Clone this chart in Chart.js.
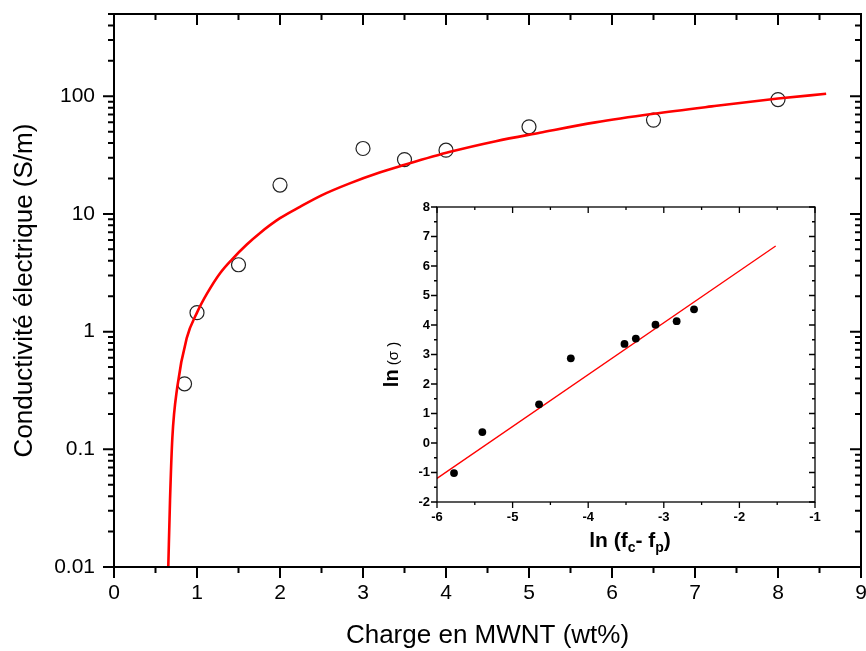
<!DOCTYPE html>
<html>
<head>
<meta charset="utf-8">
<script src="https://cdn.jsdelivr.net/npm/chart.js@4.4.1/dist/chart.umd.min.js"></script>
<style>
  body { margin: 0; background: #fff; }
  #wrap { position: relative; width: 866px; height: 651px; }
  #main { position: absolute; left: 0; top: 0; }
  #inset { position: absolute; left: 380px; top: 195px; }
</style>
</head>
<body>
<div id="wrap">
  <canvas id="main" width="866" height="651"></canvas>
  <canvas id="inset" width="450" height="365"></canvas>
</div>
<script>
const FONT = "'Liberation Sans', Arial, sans-serif";

// measured conductivity vs MWNT load
const loadWt = [0.85, 1, 1.5, 2, 3, 3.5, 4, 5, 6.5, 8];
const conductivity = [0.36, 1.45, 3.7, 17.6, 36, 29, 34.8, 55, 62.7, 93.7];

// red fit curve
const fitLoad = [0.654, 0.675, 0.703, 0.763, 0.876, 1.0, 1.12, 1.28, 1.42, 1.6, 1.76, 2.0, 2.24, 2.5, 2.84, 3.2, 3.49, 4.05, 4.6, 5.13, 5.8, 6.5, 7.2, 8.0, 8.58];
const fitSigma = [0.01, 0.037, 0.125, 0.34, 0.88, 1.45, 2.1, 3.15, 4.1, 5.5, 6.9, 9.2, 11.5, 14.4, 18.2, 22.5, 26, 33.7, 41.5, 49, 60, 71, 82, 95.6, 105];

const mainXTicks = [0, 1, 2, 3, 4, 5, 6, 7, 8, 9];
const mainYTicks = [0.01, 0.1, 1, 10, 100];

// inset: ln(sigma) vs ln(fc - fp)
const insetLnF = [-5.775, -5.40, -4.65, -4.23, -3.52, -3.37, -3.11, -2.83, -2.60];
const insetLnSigma = [-1.02, 0.37, 1.31, 2.87, 3.36, 3.54, 4.01, 4.13, 4.53];
const insetFitLnF = [-6, -1.52];
const insetFitLnSigma = [-1.2, 6.68];

const insetXTicks = [-6, -5, -4, -3, -2, -1];
const insetYTicks = [-2, -1, 0, 1, 2, 3, 4, 5, 6, 7, 8];

function minorLinear(ticks, step) {
  const out = [];
  for (let i = 0; i < ticks.length - 1; i++) out.push(ticks[i] + step);
  return out;
}
function minorLog(ticks, max) {
  const out = [];
  ticks.forEach(t => { for (let k = 2; k <= 9; k++) if (t * k <= max * 1.0001) out.push(t * k); });
  return out;
}

// keep the plot box where we put it (no extra room for edge labels)
const noPad = () => ({ left: 0, top: 0, right: 0, bottom: 0 });

// Origin-like frame: ticks out on left/bottom, in on top/right
function framePlugin(id, cfg) {
  return {
    id,
    afterDraw(chart) {
      const { ctx, chartArea: a, scales } = chart;
      const xs = scales.x, ys = scales.y;
      ctx.save();
      ctx.strokeStyle = '#000';
      ctx.lineWidth = cfg.width;
      ctx.beginPath();
      const seg = (x1, y1, x2, y2) => { ctx.moveTo(x1, y1); ctx.lineTo(x2, y2); };
      const drawX = (vals, len) => vals.forEach(v => {
        const p = xs.getPixelForValue(v);
        seg(p, a.bottom, p, a.bottom + len);
        seg(p, a.top, p, a.top + len);
      });
      const drawY = (vals, len) => vals.forEach(v => {
        const p = ys.getPixelForValue(v);
        seg(a.left, p, a.left - len, p);
        seg(a.right, p, a.right - len, p);
      });
      drawX(cfg.xMajor, cfg.major);
      drawX(cfg.xMinor, cfg.minor);
      drawY(cfg.yMajor, cfg.major);
      drawY(cfg.yMinor, cfg.minor);
      ctx.stroke();
      ctx.strokeRect(a.left, a.top, a.right - a.left, a.bottom - a.top);
      ctx.restore();
    }
  };
}

new Chart(document.getElementById('main'), {
  type: 'scatter',
  data: {
    datasets: [
      {
        label: 'fit',
        data: fitLoad.map((x, i) => ({ x, y: fitSigma[i] })),
        showLine: true,
        borderColor: '#ff0000',
        borderWidth: 2.6,
        pointRadius: 0,
        cubicInterpolationMode: 'monotone',
        order: 0
      },
      {
        label: 'mesures',
        data: loadWt.map((x, i) => ({ x, y: conductivity[i] })),
        pointRadius: 7,
        pointBorderWidth: 1.2,
        pointBorderColor: '#222',
        pointBackgroundColor: 'rgba(0,0,0,0)',
        order: 1
      }
    ]
  },
  options: {
    responsive: false,
    animation: false,
    layout: { autoPadding: false, padding: { top: 14, right: 5, left: 0, bottom: 0 } },
    plugins: { legend: { display: false }, tooltip: { enabled: false } },
    scales: {
      x: {
        type: 'linear', min: 0, max: 9,
        afterBuildTicks: s => { s.ticks = mainXTicks.map(v => ({ value: v })); },
        afterFit: s => { s.height = 84; s.paddingLeft = 0; s.paddingRight = 0; s.getPadding = noPad; },
        ticks: { font: { family: FONT, size: 21 }, color: '#000', padding: 14, maxRotation: 0, autoSkip: false },
        grid: { display: false, drawTicks: false },
        border: { display: false },
        title: { display: true, text: 'Charge en MWNT (wt%)', color: '#000',
                 font: { family: FONT, size: 26 }, padding: { top: 0, bottom: 0 } }
      },
      y: {
        type: 'logarithmic', min: 0.01, max: 500,
        afterBuildTicks: s => { s.ticks = mainYTicks.map(v => ({ value: v })); },
        afterFit: s => { s.width = 114; s.paddingTop = 0; s.paddingBottom = 0; s.getPadding = noPad; },
        ticks: { font: { family: FONT, size: 21 }, color: '#000', padding: 19,
                 autoSkip: false, callback: v => String(v) },
        grid: { display: false, drawTicks: false },
        border: { display: false },
        title: { display: true, text: 'Conductivité électrique (S/m)', color: '#000',
                 font: { family: FONT, size: 26 }, padding: { top: 9, bottom: 0 } }
      }
    }
  },
  plugins: [framePlugin('mainFrame', {
    width: 2, major: 11, minor: 6,
    xMajor: mainXTicks, xMinor: minorLinear(mainXTicks, 0.5),
    yMajor: mainYTicks, yMinor: minorLog(mainYTicks, 500)
  })]
});

const insetTitles = {
  id: 'insetTitles',
  afterDraw(chart) {
    const { ctx, chartArea: a } = chart;
    ctx.save();
    ctx.fillStyle = '#000';
    ctx.textBaseline = 'alphabetic';
    // x title: ln (f_c- f_p)
    const big = 'bold 21px ' + FONT, small = 'bold 14px ' + FONT;
    const parts = [['ln (f', big, 0], ['c', small, 5], ['- f', big, 0], ['p', small, 5], [')', big, 0]];
    let w = 0;
    parts.forEach(p => { ctx.font = p[1]; w += ctx.measureText(p[0]).width; });
    let x = (a.left + a.right) / 2 + 4 - w / 2;
    const base = a.bottom + 45;
    parts.forEach(p => { ctx.font = p[1]; ctx.fillText(p[0], x, base + p[2]); x += ctx.measureText(p[0]).width; });
    // y title: ln (σ )
    ctx.translate(a.left - 39, (a.top + a.bottom) / 2);
    ctx.rotate(-Math.PI / 2);
    ctx.font = 'bold 20px ' + FONT;
    const w1 = ctx.measureText('ln').width;
    ctx.font = '15px ' + FONT;
    const w2 = ctx.measureText(' (σ )').width;
    const start = -10 - (w1 + w2) / 2;
    ctx.font = 'bold 20px ' + FONT;
    ctx.fillText('ln', start, 0);
    ctx.font = '15px ' + FONT;
    ctx.fillText(' (σ )', start + w1, 0);
    ctx.restore();
  }
};

new Chart(document.getElementById('inset'), {
  type: 'scatter',
  data: {
    datasets: [
      {
        label: 'fit',
        data: insetFitLnF.map((x, i) => ({ x, y: insetFitLnSigma[i] })),
        showLine: true,
        borderColor: '#ff0000',
        borderWidth: 1.3,
        pointRadius: 0,
        order: 1
      },
      {
        label: 'ln sigma',
        data: insetLnF.map((x, i) => ({ x, y: insetLnSigma[i] })),
        pointRadius: 3.9,
        pointBorderWidth: 0,
        pointBackgroundColor: '#000',
        order: 0
      }
    ]
  },
  options: {
    responsive: false,
    animation: false,
    layout: { autoPadding: false, padding: { top: 12, right: 15, left: 0, bottom: 0 } },
    plugins: { legend: { display: false }, tooltip: { enabled: false } },
    scales: {
      x: {
        type: 'linear', min: -6, max: -1,
        afterBuildTicks: s => { s.ticks = insetXTicks.map(v => ({ value: v })); },
        afterFit: s => { s.height = 58; s.paddingLeft = 0; s.paddingRight = 0; s.getPadding = noPad; },
        ticks: { font: { family: FONT, size: 13, weight: 'bold' }, color: '#000', padding: 8,
                 maxRotation: 0, autoSkip: false },
        grid: { display: false, drawTicks: false },
        border: { display: false }
      },
      y: {
        type: 'linear', min: -2, max: 8,
        afterBuildTicks: s => { s.ticks = insetYTicks.map(v => ({ value: v })); },
        afterFit: s => { s.width = 57; s.paddingTop = 0; s.paddingBottom = 0; s.getPadding = noPad; },
        ticks: { font: { family: FONT, size: 13, weight: 'bold' }, color: '#000', padding: 7,
                 autoSkip: false },
        grid: { display: false, drawTicks: false },
        border: { display: false }
      }
    }
  },
  plugins: [framePlugin('insetFrame', {
    width: 1.3, major: 6, minor: 3,
    xMajor: insetXTicks, xMinor: minorLinear(insetXTicks, 0.5),
    yMajor: insetYTicks, yMinor: minorLinear(insetYTicks, 0.5)
  }), insetTitles]
});
</script>
</body>
</html>
